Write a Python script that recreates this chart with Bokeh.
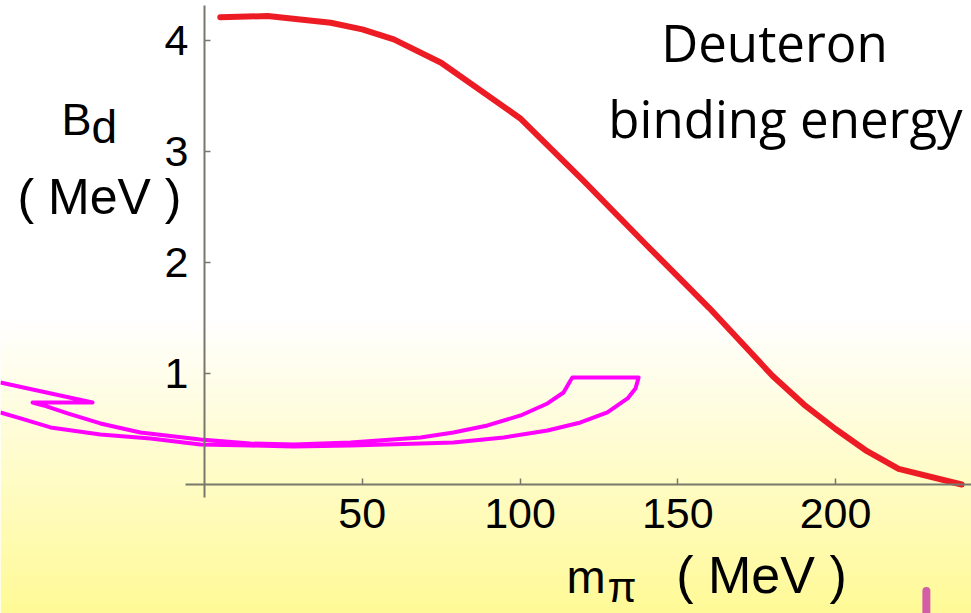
import numpy as np
from bokeh.plotting import figure
from bokeh.models import Range1d, FixedTicker, Label
from bokeh.embed import file_html
from bokeh.resources import INLINE

# Deuteron binding energy B_d (MeV) as a function of the pion mass m_pi (MeV)
m_pi = [5, 20, 40, 50, 60, 75, 100, 120, 140, 160, 180, 190, 200, 210, 220, 240]
b_d = [4.21, 4.22, 4.16, 4.10, 4.01, 3.80, 3.30, 2.74, 2.16, 1.59, 0.98, 0.72,
       0.50, 0.30, 0.14, 0.00]

x_ticks = [50, 100, 150, 200]
y_ticks = [1, 2, 3, 4]

# outline of the curved arrow pointing back towards the physical point (axis units)
arrow_x = [-64.7, -35.5, -54.5, -51.0, -43.4, -33.0, -20.3, -1.3, 14.6, 28.2, 46.3,
           68.5, 78.9, 89.7, 100.2, 108.7, 113.8, 116.0, 116.6, 137.6, 136.6, 134.1,
           127.7, 119.2, 108.7, 94.8, 78.9, 68.5, 46.3, 28.2, 14.6, -1.3, -17.1,
           -33.0, -48.8, -58.3, -64.7]
arrow_y = [0.919, 0.739, 0.739, 0.712, 0.640, 0.550, 0.468, 0.405, 0.369, 0.360, 0.378,
           0.423, 0.468, 0.532, 0.622, 0.730, 0.829, 0.937, 0.964, 0.964, 0.865, 0.775,
           0.649, 0.559, 0.486, 0.423, 0.378, 0.369, 0.351, 0.342, 0.351, 0.360, 0.414,
           0.450, 0.514, 0.595, 0.649]

# small pink stroke at the bottom edge of the slide
blob_x = [228.8, 228.8]
blob_y = [-0.96, -1.25]

W, H = 971, 613
X0_PX, Y0_PX = 204, 484        # where the two axes cross on the page
KX, KY = 3.155, 111.0          # pixels per MeV on each axis


def sx(px):
    return (px - X0_PX) / KX


def sy(py):
    return (Y0_PX - py) / KY


x_range = Range1d(sx(0), sx(W))
y_range = Range1d(sy(H), sy(0))

p = figure(width=W, height=H, x_range=x_range, y_range=y_range,
           output_backend="svg", toolbar_location=None, min_border=0)
p.outline_line_color = None
p.grid.visible = False
p.background_fill_color = "white"
p.border_fill_color = "white"

# slide background: white at the top fading to pale yellow at the bottom
rows = H
py = np.arange(rows)[::-1]                      # image row 0 is the bottom
t = np.clip((py - 320) / (H - 320), 0, 1)
top = np.array([255, 255, 255])
bot = np.array([255, 250, 150])
rgb = (top[None, :] * (1 - t[:, None]) + bot[None, :] * t[:, None]).astype(np.uint32)
img = np.empty((rows, 1), dtype=np.uint32)
view = img.view(dtype=np.uint8).reshape((rows, 1, 4))
view[:, 0, 0] = rgb[:, 0]
view[:, 0, 1] = rgb[:, 1]
view[:, 0, 2] = rgb[:, 2]
view[:, 0, 3] = 255
p.image_rgba(image=[img], x=sx(0), y=sy(H), dw=sx(W) - sx(0), dh=sy(0) - sy(H))

# axes crossing at the origin
for ax in (p.xaxis, p.yaxis):
    ax.fixed_location = 0
    ax.axis_line_color = "#78786C"
    ax.axis_line_width = 2
    ax.major_tick_line_color = "#78786C"
    ax.major_tick_line_width = 1.5
    ax.major_tick_in = 6
    ax.major_tick_out = 0
    ax.minor_tick_line_color = None
    ax.major_label_text_font = "Liberation Sans"
    ax.major_label_text_font_size = "43px"
    ax.major_label_text_color = "black"

p.xaxis.ticker = FixedTicker(ticks=x_ticks)
p.yaxis.ticker = FixedTicker(ticks=y_ticks)
p.xaxis.bounds = (sx(185), 243)
p.yaxis.bounds = (sy(497), sy(5))
p.xaxis.major_label_standoff = 14
p.yaxis.major_label_standoff = 16

# binding energy curve
p.line(m_pi, b_d, line_color="#ED1C24", line_width=6,
       line_cap="round", line_join="round")

# curved arrow
p.line(arrow_x, arrow_y, line_color="#FF00FF", line_width=4, line_join="round")

p.line(blob_x, blob_y, line_color="#D35EA8", line_width=8, line_cap="round")


def add_text(px, pyy, text, size, font="Liberation Sans", align="left"):
    p.add_layout(Label(x=sx(px), y=sy(pyy), text=text, text_font=font,
                       text_font_size=size, text_align=align,
                       text_baseline="middle", text_color="black"))


# y axis title
add_text(61, 119, "B", "45px")
add_text(91, 126, "d", "46px")
add_text(99, 196, "( MeV )", "50px", align="center")

# x axis title
add_text(566, 576, "m", "47px")
add_text(607, 587, "\u03c0", "42px")
add_text(761, 574, "( MeV )", "52px", align="center")

# caption
add_text(774, 41, "Deuteron", "51px", font="Open Sans", align="center")
add_text(785, 117, "binding energy", "51px", font="Open Sans", align="center")

open("out.html", "w").write(file_html(p, INLINE))
